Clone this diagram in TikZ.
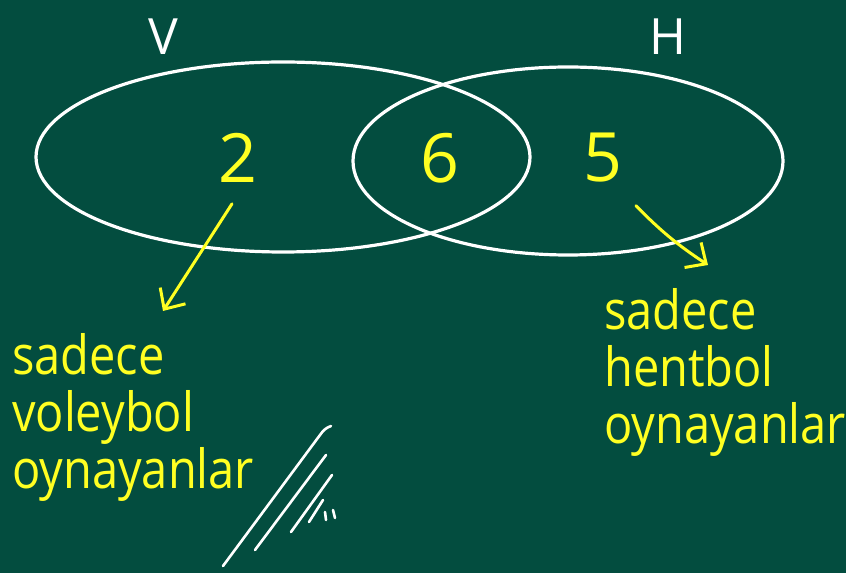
\documentclass[tikz,border=0pt]{standalone}
\usepackage{fontspec}
\setmainfont{Open Sans}
\usepackage{xcolor}
\usepackage{tikz}
\usetikzlibrary{positioning,arrows.meta,calc}
\definecolor{board}{HTML}{034D3F}
\definecolor{chalk}{HTML}{FFFF22}
\tikzset{
  ring/.style={draw=white,line width=3.2pt},
  setname/.style={text=white,inner sep=1pt,font=\fontsize{50}{50}\selectfont},
  count/.style={text=chalk,inner sep=1pt,font=\fontsize{68}{68}\selectfont},
  note/.style={text=chalk,align=left,inner sep=0pt,anchor=north west,xscale=0.87,font=\fontsize{54}{57}\selectfont},
  arr/.style={-{Straight Barb[length=16pt,width=30pt]},draw=chalk,line width=3pt,line cap=round},
  hatch/.style={draw=white,line width=2.6pt,line cap=round},
}

\begin{document}
\begin{tikzpicture}[x=1pt,y=1pt]
\fill[board] (0,0) rectangle (846,573);
\useasboundingbox (0,0) rectangle (846,573);

% the two sets
\draw[ring] (283,416) ellipse [x radius=247, y radius=95];
\draw[ring] (568,412) ellipse [x radius=215, y radius=94];
\node[setname] (V) at (163,536) {V};
\node[setname] (H) at (668,536) {H};

% counts
\node[count] (n2) at (238,415) {2};
\node[count] (n6) at (440,415) {6};
\node[count] (n5) at (603,415) {5};

% notes
\node[note] (noteV) at (12,240) {sadece\\voleybol\\oynayanlar};
\node[note] (noteH) at (604,285) {sadece\\hentbol\\oynayanlar};

\draw[arr] ($(n2.south)+(-6,-20)$) -- ($(noteV.north west)+(151,22)$);
\draw[arr] ($(n5.south)+(33,-22)$) to[bend right=6] ($(noteH.north west)+(104,23)$);

% hatch marks
\draw[hatch] (223,7) -- (320,138) to[out=55,in=200] (331,147);
\draw[hatch] (255,23) -- (326,118);
\draw[hatch] (291,41) -- (332,98);
\draw[hatch] (309,51) -- (323,73);
\draw[hatch] (326,53) -- (325,61);
\draw[hatch] (335,55) -- (333,63);
\end{tikzpicture}
\end{document}
